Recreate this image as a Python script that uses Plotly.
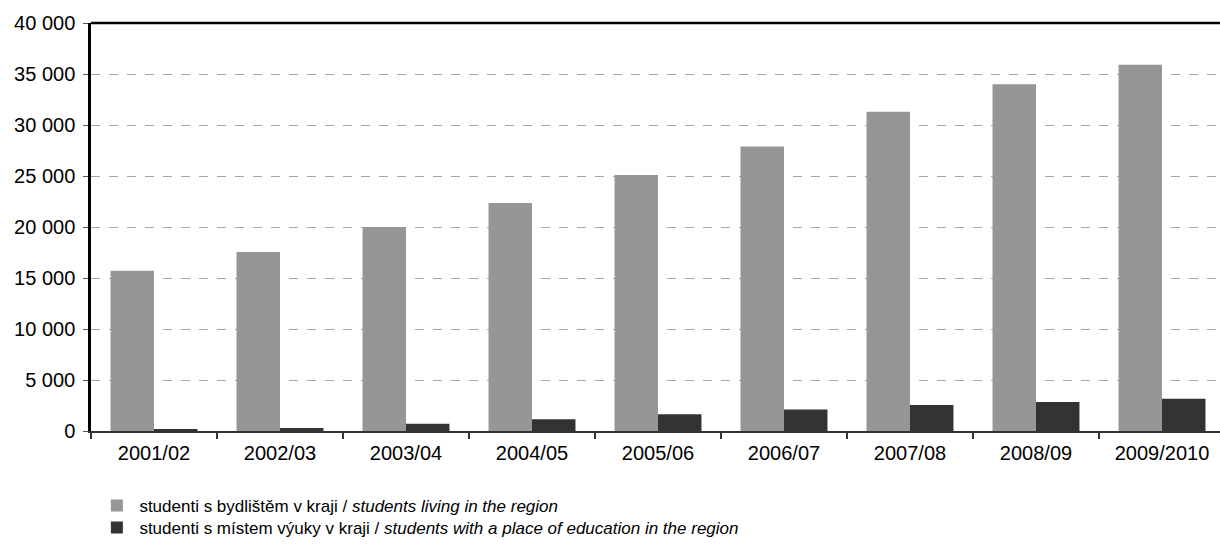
import plotly.graph_objects as go

years = ["2001/02", "2002/03", "2003/04", "2004/05", "2005/06",
         "2006/07", "2007/08", "2008/09", "2009/2010"]
living = [15700, 17550, 20000, 22350, 25100, 27900, 31300, 34000, 35900]
education = [150, 300, 700, 1150, 1650, 2100, 2550, 2850, 3150]

name_living = "studenti s bydlištěm v kraji / <i>students living in the region</i>"
name_edu = "studenti s místem výuky v kraji / <i>students with a place of education in the region</i>"

FONT = "Liberation Sans, Arial, sans-serif"
W, H = 1220, 547
L, T, B = 91, 23, 116
cat_px = 126

fig = go.Figure()
fig.add_trace(go.Bar(x=years, y=living, name=name_living,
                     marker=dict(color="#969696", line_width=0), legend="legend"))
fig.add_trace(go.Bar(x=years, y=education, name=name_edu,
                     marker=dict(color="#333333", line_width=0), legend="legend2"))

plot_w = W - L
x_hi = -0.5 + plot_w / cat_px
leg = dict(orientation="v", xanchor="left", yanchor="middle", x=0.003,
           font=dict(family=FONT, size=17, color="#000"), itemwidth=35,
           bgcolor="rgba(0,0,0,0)", borderwidth=0)

fig.update_layout(
    width=W, height=H,
    margin=dict(l=L, r=0, t=T, b=B),
    paper_bgcolor="white", plot_bgcolor="white",
    font=dict(family=FONT, size=20, color="#000"),
    barmode="group", bargap=0.31, bargroupgap=0,
    separators=". ",
    showlegend=True,
    legend=dict(leg, y=-0.1838),
    legend2=dict(leg, y=-0.2377),
    xaxis=dict(type="category", range=[-0.5, x_hi], tickson="boundaries",
               ticks="outside", ticklen=6, tickwidth=2, tickcolor="#333",
               showline=True, linecolor="#333", linewidth=2,
               showgrid=False, ticklabelstandoff=3),
    yaxis=dict(range=[0, 40000], dtick=5000, tickformat=",d",
               ticks="outside", ticklen=5, tickwidth=1, tickcolor="#555",
               showline=True, linecolor="#000", linewidth=2.5,
               showgrid=True, gridcolor="#a6a6a6", griddash="dash", gridwidth=1,
               zeroline=False, ticklabelstandoff=4),
    shapes=[dict(type="line", xref="paper", yref="paper", x0=0, x1=1, y0=1, y1=1,
                 line=dict(color="#000", width=2.5))],
)

# page has a default 8px body margin, drop it so the figure sits at 0,0
fig.write_html("out.html", config={"displayModeBar": False},
               post_script="document.body.style.margin='0';")
